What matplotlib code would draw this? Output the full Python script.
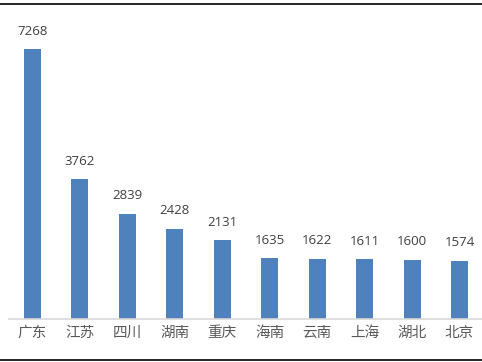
import matplotlib.pyplot as plt
from matplotlib.lines import Line2D

plt.rcParams['font.family'] = ['Noto Sans CJK SC', 'DejaVu Sans']

provinces = ["广东", "江苏", "四川", "湖南", "重庆", "海南", "云南", "上海", "湖北", "北京"]
counts = [7268, 3762, 2839, 2428, 2131, 1635, 1622, 1611, 1600, 1574]

fig = plt.figure(figsize=(4.82, 3.62), dpi=100)
ax = fig.add_axes([8.8 / 482, 43 / 362, 474.4 / 482, 309 / 362])

x = range(len(provinces))
ax.bar(x, counts, width=0.36, color="#4F81BD")
ax.set_xlim(-0.5, len(provinces) - 0.5)
ax.set_ylim(0, 8318)

for i, v in enumerate(counts):
    ax.text(i, v + 480, str(v), ha="center", va="center", fontsize=9.5,
            color="#404040", family=["Open Sans", "DejaVu Sans"])

ax.set_xticks(list(x))
ax.set_xticklabels(provinces, fontsize=10.5, color="#595959")
ax.tick_params(axis="x", length=0, pad=5)
ax.set_yticks([])
for s in ["top", "left", "right"]:
    ax.spines[s].set_visible(False)
ax.spines["bottom"].set_color("#D9D9D9")
ax.spines["bottom"].set_linewidth(1.2)

# black frame lines at top and bottom of the picture
fig.add_artist(Line2D([0, 1], [1 - 3.5 / 362, 1 - 3.5 / 362], color="black", lw=1.2))
fig.add_artist(Line2D([0, 1], [2.5 / 362, 2.5 / 362], color="black", lw=1.2))

plt.savefig("out.png", dpi=100)
